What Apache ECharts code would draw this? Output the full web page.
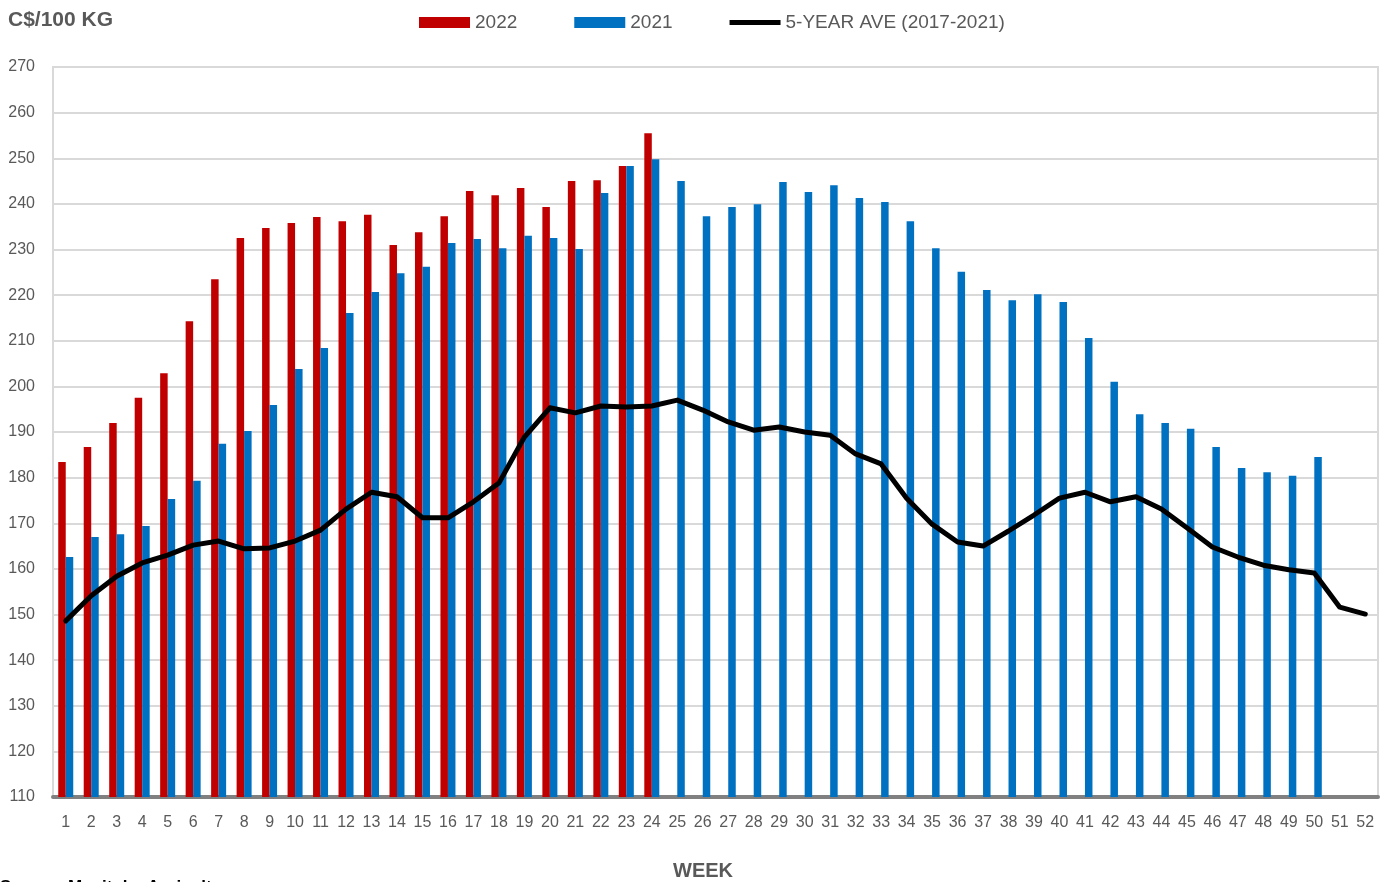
<!DOCTYPE html>
<html>
<head>
<meta charset="utf-8">
<script src="https://cdn.jsdelivr.net/npm/echarts@6/dist/echarts.min.js"></script>
<style>
html,body{margin:0;padding:0;background:#fff;}
#c{width:1383px;height:882px;}
</style>
</head>
<body>
<div id="c"></div>
<script>
var weeks = [];
for (var i = 1; i <= 52; i++) weeks.push(String(i));

var y2022 = [183.4,186.7,192.0,197.5,202.9,214.3,223.5,232.5,234.7,235.8,237.1,236.2,237.6,231.0,233.8,237.3,242.8,241.9,243.5,239.3,245.0,245.2,248.3,255.5,
  null,null,null,null,null,null,null,null,null,null,null,null,null,null,null,null,null,null,null,null,null,null,null,null,null,null,null,null];

var y2021 = [162.6,167.0,167.6,169.4,175.3,179.3,187.4,190.2,195.9,203.8,208.4,216.1,220.7,224.8,226.2,231.4,232.3,230.3,233.0,232.5,230.1,242.4,248.3,249.8,
  245.0,237.3,239.3,239.9,244.8,242.6,244.1,241.3,240.4,236.2,230.3,225.1,221.1,218.9,220.2,218.5,210.6,201.0,193.9,192.0,190.7,186.7,182.1,181.2,180.4,184.5,null,null];

var avg5 = [148.6,154.1,158.4,161.3,163.0,165.2,166.1,164.4,164.6,166.1,168.5,173.1,176.8,175.8,171.2,171.2,174.7,178.8,188.9,195.3,194.2,195.7,195.5,195.7,
  197.0,194.8,192.2,190.4,191.1,190.0,189.3,185.2,183.0,175.5,169.8,165.9,165.0,168.3,171.8,175.5,176.8,174.7,175.8,173.1,169.0,164.8,162.6,160.8,159.8,159.1,151.6,150.1];

var yTicks = [110,120,130,140,150,160,170,180,190,200,210,220,230,240,250,260,270];

var font = '"Liberation Sans", Arial, sans-serif';
var gray = '#595959';

var chart = echarts.init(document.getElementById('c'), null, {renderer: 'canvas'});
chart.setOption({
  animation: false,
  backgroundColor: '#fff',
  grid: {left: 53, right: 5, top: 67, bottom: 85, outerBoundsMode: 'none', containLabel: false,
    show: true, borderColor: '#D9D9D9', borderWidth: 2, backgroundColor: 'transparent'},
  legend: {
    top: 8, left: 414,
    itemWidth: 51, itemHeight: 11, itemGap: 57,
    textStyle: {fontFamily: font, fontSize: 19, color: gray},
    data: [
      {name: '2022', icon: 'rect'},
      {name: '2021', icon: 'rect'},
      {name: '5-YEAR AVE (2017-2021)', icon: 'path://M0,0 L100,0 L100,10 L0,10 Z'}
    ]
  },
  xAxis: {
    type: 'category',
    data: weeks,
    axisLine: {lineStyle: {color: '#808080', width: 4}},
    axisTick: {show: false},
    axisLabel: {interval: 0, fontFamily: font, fontSize: 16, color: gray, margin: 18}
  },
  yAxis: {
    type: 'value',
    min: yTicks[0], max: yTicks[yTicks.length - 1], interval: 10,
    axisLine: {show: false},
    axisTick: {show: false},
    splitLine: {lineStyle: {color: '#D9D9D9', width: 2}},
    axisLabel: {fontFamily: font, fontSize: 16, color: gray, margin: 18}
  },
  graphic: [
    {type: 'text', left: 8, top: 10, style: {text: 'C$/100 KG', font: 'bold 21px ' + font, fill: gray}},
    {type: 'text', left: 673, top: 861, style: {text: 'WEEK', font: 'bold 20px ' + font, fill: gray}},
    {type: 'text', left: 0, top: 879, style: {text: 'Source: Manitoba Agriculture', font: 'bold 17px ' + font, fill: '#000'}}
  ],
  series: [
    {name: '2022', type: 'bar', data: y2022, barWidth: 7.5, barGap: '0%', itemStyle: {color: '#C00000'}},
    {name: '2021', type: 'bar', data: y2021, barWidth: 7.5, barGap: '0%', itemStyle: {color: '#0070C0'}},
    {name: '5-YEAR AVE (2017-2021)', type: 'line', data: avg5, symbol: 'none', z: 5,
      lineStyle: {color: '#000', width: 5, cap: 'round', join: 'round'}, itemStyle: {color: '#000'}}
  ]
});
</script>
</body>
</html>
